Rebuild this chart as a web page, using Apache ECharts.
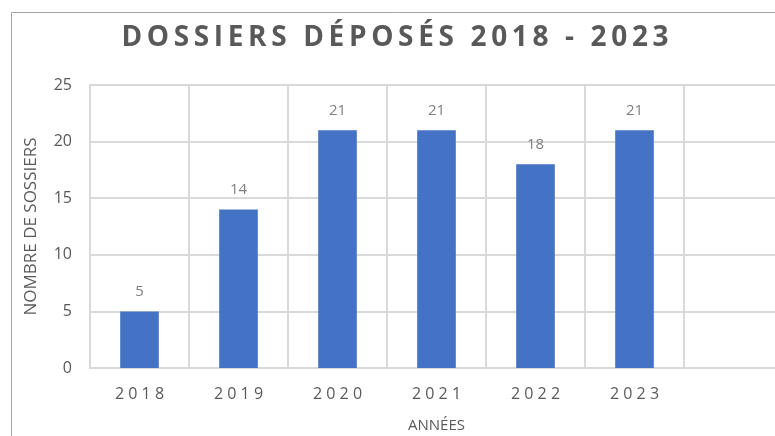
<!DOCTYPE html>
<html>
<head>
<meta charset="utf-8">
<script src="https://cdn.jsdelivr.net/npm/echarts@6/dist/echarts.min.js"></script>
<style>
    html, body { margin: 0; padding: 0; background: #fff; }
    #chart { width: 775px; height: 436px; }
</style>
</head>
<body>
<div id="chart"></div>
<script>
    // données
    var annees = ['2018', '2019', '2020', '2021', '2022', '2023', ''];
    var dossiers = [5, 14, 21, 21, 18, 21, null];
    var yTicks = [0, 5, 10, 15, 20, 25];
    var titre = 'DOSSIERS DÉPOSÉS 2018 - 2023';

    var gris = '#d9d9d9';
    var texte = '#595959';

    // espacement des lettres (pas de letterSpacing dans echarts)
    function espace(s, sep) { return s.split('').join(sep); }

    var myChart = echarts.init(document.getElementById('chart'));
    myChart.setOption({
        animation: false,
        title: {
            text: espace(titre, '\u2009'),
            left: 390,
            textAlign: 'center',
            top: 19,
            textStyle: {
                fontFamily: 'Open Sans',
                fontSize: 28,
                fontWeight: 'bold',
                color: texte
            }
        },
        graphic: [{
            type: 'rect',
            shape: { x: 11.5, y: 12.5, width: 800, height: 500 },
            style: { fill: 'none', stroke: '#a6a6a6', lineWidth: 1 },
            silent: true
        }],
        grid: {
            left: 90,
            top: 85,
            width: 693,
            bottom: 68,
            outerBoundsMode: 'none',
            containLabel: false
        },
        xAxis: {
            type: 'category',
            data: annees,
            name: 'ANNÉES',
            nameLocation: 'middle',
            nameGap: 50,
            nameTextStyle: { fontFamily: 'Open Sans', fontSize: 15, color: texte },
            axisLine: { lineStyle: { color: gris, width: 2 } },
            axisTick: { show: false },
            splitLine: { show: true, lineStyle: { color: gris, width: 2 } },
            axisLabel: {
                fontFamily: 'Open Sans',
                fontSize: 16,
                color: texte,
                margin: 18,
                formatter: function (v) { return espace(v, ' '); }
            }
        },
        yAxis: {
            type: 'value',
            min: yTicks[0],
            max: yTicks[yTicks.length - 1],
            interval: 5,
            name: 'NOMBRE DE SOSSIERS',
            nameLocation: 'middle',
            nameRotate: 90,
            nameGap: 50,
            nameTextStyle: { fontFamily: 'Open Sans', fontSize: 17, color: texte },
            axisLine: { show: true, lineStyle: { color: gris, width: 2 } },
            axisTick: { show: false },
            splitLine: { lineStyle: { color: gris, width: 2 } },
            axisLabel: { fontFamily: 'Open Sans', fontSize: 16, color: texte, margin: 18 }
        },
        series: [{
            type: 'bar',
            data: dossiers,
            barWidth: '39%',
            itemStyle: { color: '#4472C4' },
            label: {
                show: true,
                position: 'top',
                distance: 12,
                fontFamily: 'Open Sans',
                fontSize: 15,
                color: '#7f7f7f'
            }
        }]
    });
</script>
</body>
</html>
